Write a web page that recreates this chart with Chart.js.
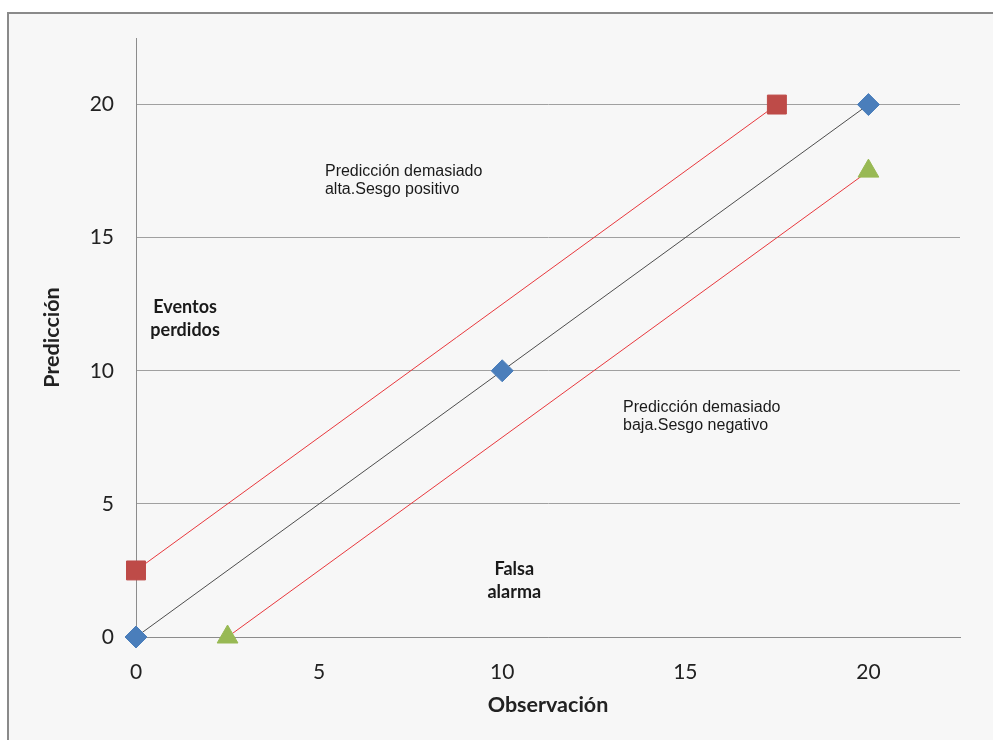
<!DOCTYPE html>
<html>
<head>
<meta charset="utf-8">
<script src="https://cdn.jsdelivr.net/npm/chart.js@4/dist/chart.umd.min.js"></script>
<style>
  html, body { margin: 0; padding: 0; background: #fff; }
  #marco {
    position: absolute; left: 7px; top: 12px;
    width: 1000px; height: 740px;
    border: 2px solid #8a8a8a; background: #f7f7f7;
  }
  #grafico { position: absolute; left: 0; top: 0; }
</style>
</head>
<body>
<div id="marco"></div>
<canvas id="grafico" width="993" height="740"></canvas>
<script>
// Recta ideal (observación = predicción)
const idealX = [0, 10, 20];
const idealY = [0, 10, 20];

// Sesgo positivo: predicción demasiado alta
const altaX = [0, 17.5];
const altaY = [2.5, 20];

// Sesgo negativo: predicción demasiado baja
const bajaX = [2.5, 20];
const bajaY = [0, 17.5];

// Marcas de los ejes
const ticksX = [0, 5, 10, 15, 20];
const ticksY = [0, 5, 10, 15, 20];

// Textos sobre el gráfico (coordenadas en unidades de datos)
const notas = [
  { x: 5.16, y: 17.48, lineas: ['Predicción demasiado', 'alta.Sesgo positivo'], negrita: false, align: 'left' },
  { x: 13.3, y: 8.61, lineas: ['Predicción demasiado', 'baja.Sesgo negativo'], negrita: false, align: 'left' },
  { x: 1.34, y: 12.4, lineas: ['Eventos', 'perdidos'], negrita: true, align: 'center' },
  { x: 10.33, y: 2.56, lineas: ['Falsa', 'alarma'], negrita: true, align: 'center' }
];

function puntos(xs, ys) {
  return xs.map((x, i) => ({ x: x, y: ys[i] }));
}

// Dibuja los textos de las zonas
const notasPlugin = {
  id: 'notas',
  afterDatasetsDraw(chart) {
    const ctx = chart.ctx;
    const sx = chart.scales.x;
    const sy = chart.scales.y;
    ctx.save();
    ctx.fillStyle = '#1a1a1a';
    ctx.textBaseline = 'middle';
    notas.forEach(n => {
      const px = sx.getPixelForValue(n.x);
      const py = sy.getPixelForValue(n.y);
      ctx.textAlign = n.align;
      ctx.font = n.negrita ? 'bold 18px Lato' : '16px "Liberation Sans"';
      const salto = n.negrita ? 23 : 18;
      n.lineas.forEach((t, i) => ctx.fillText(t, px, py + i * salto));
    });
    ctx.restore();
  }
};

const fuenteTicks = { family: 'Lato', size: 21 };
const fuenteTitulo = { family: 'Lato', size: 21.5, weight: 'bold' };

new Chart(document.getElementById('grafico'), {
  type: 'scatter',
  data: {
    datasets: [
      {
        label: 'Ideal',
        data: puntos(idealX, idealY),
        showLine: true,
        clip: false,
        borderColor: '#4d4d4d',
        borderWidth: 1,
        pointStyle: 'rectRot',
        pointRadius: 11,
        pointBackgroundColor: '#4a7ebb',
        pointBorderColor: '#4a7ebb'
      },
      {
        label: 'Alta',
        data: puntos(altaX, altaY),
        showLine: true,
        clip: false,
        borderColor: '#e8383d',
        borderWidth: 1,
        pointStyle: 'rect',
        pointRadius: 13.4,
        pointBackgroundColor: '#be4b48',
        pointBorderColor: '#be4b48'
      },
      {
        label: 'Baja',
        data: puntos(bajaX, bajaY),
        showLine: true,
        clip: false,
        borderColor: '#e8383d',
        borderWidth: 1,
        pointStyle: 'triangle',
        pointRadius: 12,
        pointBackgroundColor: '#98b954',
        pointBorderColor: '#98b954'
      }
    ]
  },
  options: {
    responsive: false,
    animation: false,
    devicePixelRatio: 1,
    layout: { padding: { left: 0, top: 38, right: 33, bottom: 0 } },
    plugins: {
      legend: { display: false },
      tooltip: { enabled: false }
    },
    scales: {
      x: {
        type: 'linear',
        min: 0,
        max: 22.5,
        afterBuildTicks: s => { s.ticks = ticksX.map(v => ({ value: v })); },
        afterFit: s => { s.height = 103; },
        grid: { display: false, drawTicks: false },
        border: { display: true, color: '#8c8c8c', width: 1 },
        ticks: { font: fuenteTicks, color: '#222', padding: 23 },
        title: {
          display: true,
          text: 'Observación',
          font: fuenteTitulo,
          color: '#222',
          padding: { top: 0, bottom: 22 }
        }
      },
      y: {
        type: 'linear',
        min: 0,
        max: 22.5,
        afterBuildTicks: s => { s.ticks = ticksY.map(v => ({ value: v })); },
        afterFit: s => { s.width = 136; },
        grid: { color: '#a0a0a0', lineWidth: 1, drawTicks: false },
        border: { display: true, color: '#8c8c8c', width: 1 },
        ticks: { font: fuenteTicks, color: '#222', padding: 22 },
        title: {
          display: true,
          text: 'Predicción',
          font: fuenteTitulo,
          color: '#222',
          padding: { top: 39, bottom: 0 }
        }
      }
    }
  },
  plugins: [notasPlugin]
});
</script>
</body>
</html>
